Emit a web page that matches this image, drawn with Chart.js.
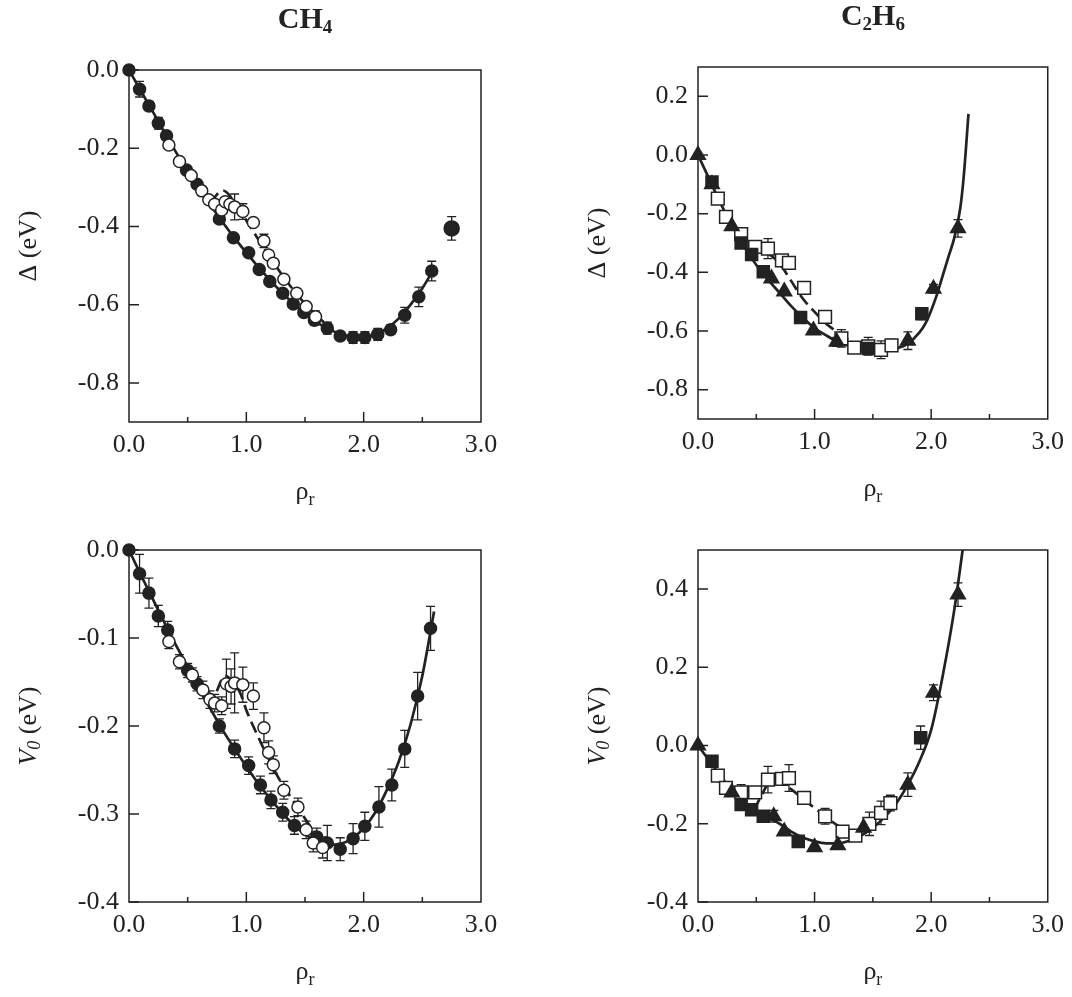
<!DOCTYPE html>
<html>
<head>
<meta charset="utf-8">
<script src="https://cdn.jsdelivr.net/npm/chart.js@4.4.1/dist/chart.umd.min.js"></script>
<style>
body{margin:0;background:#fff;width:1072px;height:997px;position:relative;overflow:hidden}
canvas{position:absolute}
</style>
</head>
<body>
<canvas id="c1" width="536" height="520" style="left:0;top:0"></canvas>
<canvas id="c2" width="536" height="520" style="left:536px;top:0"></canvas>
<canvas id="c3" width="536" height="477" style="left:0;top:520px"></canvas>
<canvas id="c4" width="536" height="477" style="left:536px;top:520px"></canvas>
<script>
// ---- data (rho_r on x) ----
const rhoTicks = [0, 1, 2, 3];

// CH4, Delta
const ch4DeltaTicks = [0, -0.2, -0.4, -0.6, -0.8];
const ch4DeltaFilledRho = [0, 0.09, 0.17, 0.25, 0.32, 0.49, 0.58, 0.77, 0.89, 1.02, 1.11, 1.20, 1.31, 1.40, 1.49, 1.58, 1.69, 1.80, 1.91, 2.01, 2.12, 2.23, 2.35, 2.47, 2.58, 2.75];
const ch4DeltaFilled = [0, -0.049, -0.092, -0.136, -0.168, -0.256, -0.292, -0.381, -0.429, -0.467, -0.51, -0.541, -0.571, -0.598, -0.62, -0.64, -0.66, -0.68, -0.684, -0.684, -0.676, -0.664, -0.627, -0.58, -0.514, -0.405];
const ch4DeltaFilledErr = [0, 0.02, 0.012, 0.015, 0, 0, 0, 0, 0, 0, 0, 0, 0, 0, 0, 0.012, 0.015, 0.01, 0.015, 0.015, 0.015, 0.012, 0.02, 0.025, 0.025, 0.03];
const ch4DeltaOpenRho = [0.34, 0.43, 0.53, 0.62, 0.68, 0.73, 0.79, 0.82, 0.86, 0.90, 0.97, 1.06, 1.15, 1.19, 1.23, 1.32, 1.43, 1.51, 1.59];
const ch4DeltaOpen = [-0.192, -0.234, -0.27, -0.309, -0.332, -0.343, -0.358, -0.337, -0.343, -0.35, -0.362, -0.39, -0.437, -0.473, -0.494, -0.535, -0.571, -0.605, -0.631];
const ch4DeltaOpenErr = [0, 0, 0, 0, 0, 0, 0, 0, 0, 0.033, 0.02, 0, 0.017, 0, 0, 0, 0, 0, 0.015];
const ch4DeltaFitRho = [0, 0.1, 0.2, 0.3, 0.4, 0.5, 0.6, 0.7, 0.8, 0.9, 1.0, 1.1, 1.2, 1.3, 1.4, 1.5, 1.6, 1.7, 1.8, 1.9, 2.0, 2.1, 2.2, 2.3, 2.4, 2.5, 2.6];
const ch4DeltaFit = [0, -0.053, -0.105, -0.158, -0.21, -0.258, -0.303, -0.348, -0.39, -0.43, -0.467, -0.503, -0.537, -0.568, -0.597, -0.623, -0.645, -0.662, -0.675, -0.682, -0.683, -0.676, -0.66, -0.635, -0.6, -0.558, -0.508];
const ch4DeltaDashRho = [0.70, 0.75, 0.80, 0.85, 0.90, 1.00, 1.10, 1.20, 1.30, 1.40, 1.50, 1.60, 1.66];
const ch4DeltaDash = [-0.34, -0.318, -0.308, -0.318, -0.34, -0.385, -0.432, -0.478, -0.522, -0.562, -0.598, -0.628, -0.645];

// C2H6, Delta
const c2h6DeltaTicks = [0.2, 0, -0.2, -0.4, -0.6, -0.8];
const c2h6DeltaTriRho = [0, 0.12, 0.29, 0.63, 0.74, 0.99, 1.19, 1.80, 2.02, 2.23];
const c2h6DeltaTri = [0, -0.10, -0.243, -0.421, -0.465, -0.598, -0.637, -0.633, -0.456, -0.25];
const c2h6DeltaTriErr = [0, 0, 0, 0, 0, 0, 0.015, 0.03, 0.015, 0.03];
const c2h6DeltaSqRho = [0.12, 0.37, 0.46, 0.56, 0.88, 1.46, 1.92];
const c2h6DeltaSq = [-0.092, -0.30, -0.339, -0.398, -0.554, -0.66, -0.541];
const c2h6DeltaSqErr = [0, 0, 0, 0, 0, 0, 0.02];
const c2h6DeltaOpenRho = [0.17, 0.24, 0.37, 0.49, 0.60, 0.72, 0.78, 0.91, 1.09, 1.23, 1.34, 1.46, 1.57, 1.66];
const c2h6DeltaOpen = [-0.149, -0.211, -0.27, -0.313, -0.319, -0.359, -0.368, -0.453, -0.552, -0.625, -0.657, -0.652, -0.664, -0.649];
const c2h6DeltaOpenErr = [0, 0, 0, 0, 0.034, 0, 0.02, 0, 0, 0.03, 0, 0.03, 0.03, 0.02];
const c2h6DeltaFitRho = [0, 0.1, 0.2, 0.3, 0.4, 0.5, 0.6, 0.7, 0.8, 0.9, 1.0, 1.1, 1.2, 1.3, 1.4, 1.5, 1.6, 1.7, 1.8, 1.9, 1.95, 2.0, 2.05, 2.1, 2.15, 2.2, 2.25, 2.28, 2.32];
const c2h6DeltaFit = [0, -0.085, -0.17, -0.245, -0.315, -0.375, -0.425, -0.47, -0.515, -0.555, -0.59, -0.615, -0.637, -0.652, -0.662, -0.667, -0.667, -0.66, -0.643, -0.605, -0.575, -0.53, -0.475, -0.41, -0.345, -0.28, -0.18, -0.07, 0.14];
const c2h6DeltaDashRho = [0.45, 0.5, 0.6, 0.7, 0.8, 0.9, 1.0, 1.1, 1.2, 1.3, 1.4];
const c2h6DeltaDash = [-0.31, -0.318, -0.335, -0.37, -0.43, -0.49, -0.535, -0.575, -0.605, -0.632, -0.65];

// CH4, V0
const ch4V0Ticks = [0, -0.1, -0.2, -0.3, -0.4];
const ch4V0FilledRho = [0, 0.09, 0.17, 0.25, 0.33, 0.50, 0.58, 0.77, 0.90, 1.02, 1.12, 1.21, 1.31, 1.41, 1.60, 1.69, 1.80, 1.91, 2.01, 2.13, 2.24, 2.35, 2.46, 2.57];
const ch4V0Filled = [0, -0.027, -0.049, -0.075, -0.091, -0.137, -0.152, -0.2, -0.226, -0.245, -0.267, -0.284, -0.298, -0.313, -0.326, -0.333, -0.34, -0.328, -0.314, -0.292, -0.267, -0.226, -0.166, -0.089];
const ch4V0FilledErr = [0, 0.022, 0.017, 0.012, 0.01, 0.008, 0.008, 0.008, 0.01, 0.01, 0.01, 0.01, 0.01, 0.01, 0.01, 0.02, 0.013, 0.017, 0.016, 0.023, 0.018, 0.021, 0.027, 0.025];
const ch4V0OpenRho = [0.34, 0.43, 0.54, 0.63, 0.69, 0.73, 0.79, 0.83, 0.87, 0.90, 0.97, 1.06, 1.15, 1.19, 1.23, 1.32, 1.44, 1.51, 1.57, 1.65];
const ch4V0Open = [-0.104, -0.127, -0.142, -0.159, -0.17, -0.174, -0.177, -0.152, -0.155, -0.151, -0.153, -0.166, -0.202, -0.23, -0.244, -0.273, -0.292, -0.318, -0.333, -0.338];
const ch4V0OpenErr = [0.008, 0.008, 0.008, 0.01, 0.01, 0.01, 0.01, 0.028, 0.02, 0.034, 0.02, 0.015, 0.017, 0.013, 0.01, 0.01, 0.01, 0.01, 0.01, 0.012];
const ch4V0FitRho = [0, 0.1, 0.2, 0.3, 0.4, 0.5, 0.6, 0.7, 0.8, 0.9, 1.0, 1.1, 1.2, 1.3, 1.4, 1.5, 1.6, 1.7, 1.8, 1.9, 2.0, 2.1, 2.2, 2.3, 2.4, 2.5, 2.6];
const ch4V0Fit = [0, -0.028, -0.055, -0.082, -0.108, -0.133, -0.158, -0.182, -0.205, -0.226, -0.246, -0.265, -0.282, -0.298, -0.312, -0.323, -0.331, -0.335, -0.334, -0.328, -0.316, -0.298, -0.272, -0.24, -0.198, -0.143, -0.07];
const ch4V0DashRho = [0.70, 0.75, 0.82, 0.90, 0.95, 1.0, 1.1, 1.2, 1.3, 1.4, 1.5, 1.6, 1.65];
const ch4V0Dash = [-0.18, -0.16, -0.143, -0.152, -0.163, -0.182, -0.212, -0.24, -0.265, -0.285, -0.305, -0.325, -0.333];

// C2H6, V0
const c2h6V0Ticks = [0.4, 0.2, 0, -0.2, -0.4];
const c2h6V0TriRho = [0, 0.29, 0.65, 0.74, 1.0, 1.2, 1.42, 1.8, 2.02, 2.23];
const c2h6V0Tri = [0, -0.12, -0.181, -0.22, -0.26, -0.255, -0.21, -0.1, 0.135, 0.386];
const c2h6V0TriErr = [0, 0, 0.015, 0, 0, 0, 0, 0.03, 0.02, 0.03];
const c2h6V0SqRho = [0.12, 0.37, 0.46, 0.56, 0.86, 1.91];
const c2h6V0Sq = [-0.04, -0.151, -0.164, -0.181, -0.245, 0.02];
const c2h6V0SqErr = [0, 0, 0, 0, 0, 0.03];
const c2h6V0OpenRho = [0.17, 0.24, 0.37, 0.49, 0.60, 0.72, 0.78, 0.91, 1.09, 1.24, 1.35, 1.47, 1.57, 1.65];
const c2h6V0Open = [-0.077, -0.108, -0.12, -0.12, -0.087, -0.085, -0.083, -0.134, -0.181, -0.22, -0.23, -0.2, -0.172, -0.147];
const c2h6V0OpenErr = [0, 0, 0.02, 0, 0.034, 0, 0.034, 0, 0.02, 0, 0, 0.03, 0.03, 0.02];
const c2h6V0FitRho = [0, 0.1, 0.2, 0.3, 0.4, 0.5, 0.6, 0.7, 0.8, 0.9, 1.0, 1.1, 1.2, 1.3, 1.4, 1.5, 1.6, 1.7, 1.8, 1.9, 2.0, 2.1, 2.2, 2.27];
const c2h6V0Fit = [0, -0.04, -0.08, -0.118, -0.148, -0.168, -0.185, -0.2, -0.22, -0.235, -0.245, -0.25, -0.25, -0.243, -0.23, -0.21, -0.183, -0.148, -0.1, -0.04, 0.04, 0.18, 0.35, 0.5];
const c2h6V0DashRho = [0.48, 0.55, 0.62, 0.7, 0.8, 0.9, 1.0, 1.1, 1.2, 1.3, 1.38];
const c2h6V0Dash = [-0.165, -0.125, -0.092, -0.094, -0.112, -0.136, -0.16, -0.183, -0.205, -0.222, -0.232];

// ---- drawing ----
const SERIF = "'Liberation Serif', 'Times New Roman', serif";
const INK = '#222';

function pts(xs, ys) { return xs.map((x, i) => ({ x: x, y: ys[i] })); }

function fitLine(xs, ys, dashed) {
  return { data: pts(xs, ys), showLine: true, pointRadius: 0, borderColor: INK, borderWidth: 2.7,
    borderDash: dashed ? [12, 6] : [], cubicInterpolationMode: 'monotone', order: 5, clip: false };
}
function marks(xs, ys, err, style, filled, r) {
  return { data: pts(xs, ys), err: err, showLine: false, pointStyle: style, pointRadius: r,
    pointBackgroundColor: filled ? INK : '#fff', pointBorderColor: INK, pointBorderWidth: 1.5,
    order: 1, clip: false };
}

// error bars with caps, drawn under the markers
const errBars = {
  id: 'errBars',
  beforeDatasetsDraw(chart) {
    const ctx = chart.ctx, xs = chart.scales.x, ys = chart.scales.y;
    ctx.save();
    ctx.strokeStyle = INK; ctx.lineWidth = 1.3;
    chart.data.datasets.forEach(ds => {
      if (!ds.err) return;
      ds.data.forEach((p, i) => {
        const e = ds.err[i];
        if (!e) return;
        const px = xs.getPixelForValue(p.x);
        const y1 = ys.getPixelForValue(p.y + e), y2 = ys.getPixelForValue(p.y - e);
        ctx.beginPath();
        ctx.moveTo(px, y1); ctx.lineTo(px, y2);
        ctx.moveTo(px - 4.5, y1); ctx.lineTo(px + 4.5, y1);
        ctx.moveTo(px - 4.5, y2); ctx.lineTo(px + 4.5, y2);
        ctx.stroke();
      });
    });
    ctx.restore();
  }
};

// box and inward ticks
const frame = {
  id: 'frame',
  afterDraw(chart) {
    const ctx = chart.ctx, a = chart.chartArea, xs = chart.scales.x, ys = chart.scales.y;
    ctx.save();
    ctx.strokeStyle = INK; ctx.lineWidth = 1.5;
    ctx.strokeRect(a.left, a.top, a.right - a.left, a.bottom - a.top);
    ctx.beginPath();
    for (let k = 1; k < 6; k++) {
      const v = k * 0.5, px = xs.getPixelForValue(v);
      const len = k % 2 === 0 ? 10 : 5;
      ctx.moveTo(px, a.bottom); ctx.lineTo(px, a.bottom - len);
    }
    ys.ticks.forEach(t => {
      const py = ys.getPixelForValue(t.value);
      ctx.moveTo(a.left, py); ctx.lineTo(a.left + 10, py);
    });
    ctx.stroke();
    ctx.restore();
  }
};

// text made of pieces (subscripts, italics)
function drawParts(ctx, parts, cx, cy, rot) {
  ctx.save();
  ctx.translate(cx, cy);
  if (rot) ctx.rotate(rot);
  ctx.fillStyle = INK;
  ctx.textBaseline = 'middle';
  ctx.textAlign = 'left';
  let w = 0;
  parts.forEach(p => { ctx.font = p.f; w += ctx.measureText(p.t).width; });
  let x = -w / 2;
  parts.forEach(p => { ctx.font = p.f; ctx.fillText(p.t, x, p.dy || 0); x += ctx.measureText(p.t).width; });
  ctx.restore();
}
const labels = {
  id: 'labels',
  afterDraw(chart, args, o) {
    const ctx = chart.ctx, a = chart.chartArea, mid = (a.left + a.right) / 2;
    if (o.title) drawParts(ctx, o.title, mid, a.top - 50);
    drawParts(ctx, o.xTitle, mid, a.bottom + 70);
    drawParts(ctx, o.yTitle, a.left - 100, (a.top + a.bottom) / 2, -Math.PI / 2);
  }
};

const big = '26px ' + SERIF, small = '18px ' + SERIF;
const rhoTitle = [{ t: 'ρ', f: big }, { t: 'r', f: small, dy: 8 }];
const deltaTitle = [{ t: 'Δ (eV)', f: big }];
const v0Title = [{ t: 'V', f: 'italic ' + big }, { t: '0', f: 'italic ' + small, dy: 6 }, { t: ' (eV)', f: big }];
const tb = 'bold 30px ' + SERIF, ts = 'bold 19px ' + SERIF;

function panel(id, yMin, yMax, yTicks, datasets, o) {
  new Chart(document.getElementById(id), {
    type: 'scatter',
    data: { datasets: datasets },
    plugins: [errBars, frame, labels],
    options: {
      responsive: false, animation: false, events: [],
      layout: { padding: { top: o.top, right: o.right, left: 0, bottom: 0 } },
      plugins: { legend: { display: false }, tooltip: { enabled: false },
        labels: { title: o.title, xTitle: rhoTitle, yTitle: o.yTitle } },
      scales: {
        x: { type: 'linear', min: 0, max: 3,
          afterBuildTicks: s => { s.ticks = rhoTicks.map(v => ({ value: v })); },
          afterFit: s => { s.height = o.xh; },
          grid: { display: false, drawTicks: false }, border: { display: false },
          ticks: { color: INK, font: { family: SERIF, size: 26 }, padding: 8, maxRotation: 0,
            callback: v => v.toFixed(1) } },
        y: { type: 'linear', min: yMin, max: yMax,
          afterBuildTicks: s => { s.ticks = yTicks.map(v => ({ value: v })); },
          afterFit: s => { s.width = o.yw; },
          grid: { display: false, drawTicks: false }, border: { display: false },
          ticks: { color: INK, font: { family: SERIF, size: 26 }, padding: 10,
            callback: v => v.toFixed(1) } }
      }
    }
  });
}

panel('c1', -0.9, 0, ch4DeltaTicks, [
  fitLine(ch4DeltaFitRho, ch4DeltaFit, false),
  fitLine(ch4DeltaDashRho, ch4DeltaDash, true),
  marks(ch4DeltaOpenRho, ch4DeltaOpen, ch4DeltaOpenErr, 'circle', false, 6),
  marks(ch4DeltaFilledRho, ch4DeltaFilled, ch4DeltaFilledErr, 'circle', true,
    ch4DeltaFilledRho.map(r => r > 2.7 ? 7.5 : 6))
], { top: 70, right: 55, xh: 98, yw: 129, yTitle: deltaTitle,
     title: [{ t: 'CH', f: tb }, { t: '4', f: ts, dy: 8 }] });

panel('c2', -0.9, 0.3, c2h6DeltaTicks, [
  fitLine(c2h6DeltaFitRho, c2h6DeltaFit, false),
  fitLine(c2h6DeltaDashRho, c2h6DeltaDash, true),
  marks(c2h6DeltaTriRho, c2h6DeltaTri, c2h6DeltaTriErr, 'triangle', true, 8.5),
  marks(c2h6DeltaSqRho, c2h6DeltaSq, c2h6DeltaSqErr, 'rect', true, 8.5),
  marks(c2h6DeltaOpenRho, c2h6DeltaOpen, c2h6DeltaOpenErr, 'rect', false, 9)
], { top: 67, right: 22, xh: 101, yw: 162, yTitle: deltaTitle,
     title: [{ t: 'C', f: tb }, { t: '2', f: ts, dy: 8 }, { t: 'H', f: tb }, { t: '6', f: ts, dy: 8 }] });

panel('c3', -0.4, 0, ch4V0Ticks, [
  fitLine(ch4V0FitRho, ch4V0Fit, false),
  fitLine(ch4V0DashRho, ch4V0Dash, true),
  marks(ch4V0OpenRho, ch4V0Open, ch4V0OpenErr, 'circle', false, 6),
  marks(ch4V0FilledRho, ch4V0Filled, ch4V0FilledErr, 'circle', true, 6)
], { top: 30, right: 55, xh: 95, yw: 129, yTitle: v0Title });

panel('c4', -0.4, 0.5, c2h6V0Ticks, [
  fitLine(c2h6V0FitRho, c2h6V0Fit, false),
  fitLine(c2h6V0DashRho, c2h6V0Dash, true),
  marks(c2h6V0TriRho, c2h6V0Tri, c2h6V0TriErr, 'triangle', true, 8.5),
  marks(c2h6V0SqRho, c2h6V0Sq, c2h6V0SqErr, 'rect', true, 8.5),
  marks(c2h6V0OpenRho, c2h6V0Open, c2h6V0OpenErr, 'rect', false, 9)
], { top: 30, right: 22, xh: 95, yw: 162, yTitle: v0Title });
</script>
</body>
</html>
